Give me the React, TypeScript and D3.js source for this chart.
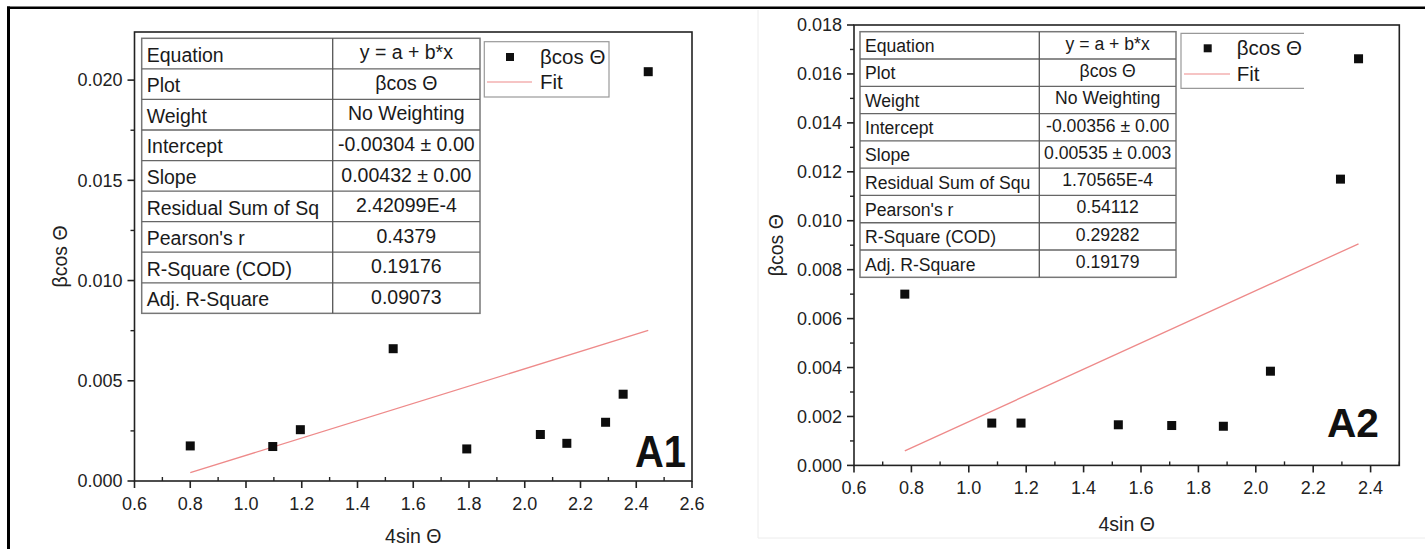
import React from "react";
import * as d3 from "d3";

// ---------- data ----------
const a1X = [0.8, 1.096, 1.195, 1.528, 1.792, 2.056, 2.151, 2.29, 2.353, 2.443];
const a1Y = [0.00175, 0.00172, 0.00256, 0.0066, 0.0016, 0.00232, 0.00188, 0.00293, 0.00433, 0.02042];
const a2X = [0.777, 1.08, 1.182, 1.521, 1.707, 1.887, 2.051, 2.295, 2.358];
const a2Y = [0.007, 0.00173, 0.00173, 0.00166, 0.00163, 0.0016, 0.00385, 0.0117, 0.01662];

const a1Intercept = -0.00304;
const a1Slope = 0.00432;
const a2Intercept = -0.00356;
const a2Slope = 0.00535;

const a1XTicks = [0.6, 0.8, 1.0, 1.2, 1.4, 1.6, 1.8, 2.0, 2.2, 2.4, 2.6];
const a1YTicks = [0, 0.005, 0.01, 0.015, 0.02];
const a2XTicks = [0.6, 0.8, 1.0, 1.2, 1.4, 1.6, 1.8, 2.0, 2.2, 2.4];
const a2YTicks = [0, 0.002, 0.004, 0.006, 0.008, 0.01, 0.012, 0.014, 0.016, 0.018];

const a1TableLabels = ["Equation", "Plot", "Weight", "Intercept", "Slope", "Residual Sum of Sq", "Pearson's r", "R-Square (COD)", "Adj. R-Square"];
const a1TableValues = ["y = a + b*x", "βcos Θ", "No Weighting", "-0.00304 ± 0.00", "0.00432 ± 0.00", "2.42099E-4", "0.4379", "0.19176", "0.09073"];
const a2TableLabels = ["Equation", "Plot", "Weight", "Intercept", "Slope", "Residual Sum of Squ", "Pearson's r", "R-Square (COD)", "Adj. R-Square"];
const a2TableValues = ["y = a + b*x", "βcos Θ", "No Weighting", "-0.00356 ± 0.00", "0.00535 ± 0.003", "1.70565E-4", "0.54112", "0.29282", "0.19179"];

const xTitle = "4sin Θ";
const yTitle = "βcos Θ";
const legendPoints = "βcos Θ";
const legendFit = "Fit";

const FONT = "'Liberation Sans', Arial, Helvetica, sans-serif";

type PanelCfg = {
  xs: number[]; ys: number[];
  intercept: number; slope: number;
  xDomain: [number, number]; yDomain: [number, number];
  xTicks: number[]; yTicks: number[];
  frame: { l: number; r: number; t: number; b: number };
  table: { x0: number; x1: number; x2: number; y0: number; rowH: number; font: number; labels: string[]; values: string[]; lOff: number; vOff: number };
  legend: { l: number; t: number; r: number; b: number; rightBorder: boolean; sq: [number, number]; tx: number; fitY: number; lineX: [number, number]; font: number };
  tag: string; tagX: number; tagY: number; tagFont: number; tagW: number;
  yTitleX: number; xTitleY: number;
  tickFont: number;
};

function Panel({ c }: { c: PanelCfg }) {
  const { frame } = c;
  const x = d3.scaleLinear().domain(c.xDomain).range([frame.l, frame.r]);
  const y = d3.scaleLinear().domain(c.yDomain).range([frame.b, frame.t]);
  const xStep = c.xTicks[1] - c.xTicks[0];
  const yStep = c.yTicks[1] - c.yTicks[0];
  const xMinor = c.xTicks.slice(0, -1).map((t) => t + xStep / 2).filter((t) => t <= c.xDomain[1]);
  if (c.xTicks[c.xTicks.length - 1] + xStep / 2 <= c.xDomain[1] + 1e-9) xMinor.push(c.xTicks[c.xTicks.length - 1] + xStep / 2);
  const yMinor = c.yTicks.slice(0, -1).map((t) => t + yStep / 2);
  const xMin = d3.min(c.xs) as number;
  const xMax = d3.max(c.xs) as number;
  const fitLine = d3.line<number>().x((v) => x(v)).y((v) => y(c.intercept + c.slope * v));
  const t = c.table;
  const lg = c.legend;
  const axisColor = "#222";
  return (
    <g fontFamily={FONT}>
      {/* table */}
      <g>
        <rect x={t.x0} y={t.y0} width={t.x2 - t.x0} height={t.rowH * t.labels.length} fill="white" stroke="#777" strokeWidth={1.5} />
        {t.labels.map((_, i) => i > 0 ? (
          <line key={"r" + i} x1={t.x0} x2={t.x2} y1={t.y0 + i * t.rowH} y2={t.y0 + i * t.rowH} stroke="#666" strokeWidth={1.3} />
        ) : null)}
        <line x1={t.x1} x2={t.x1} y1={t.y0} y2={t.y0 + t.rowH * t.labels.length} stroke="#555" strokeWidth={1.3} />
        {t.labels.map((s, i) => (
          <text key={"l" + i} x={t.x0 + 5} y={t.y0 + i * t.rowH + t.lOff} fontSize={t.font} fill="#1a1a1a">{s}</text>
        ))}
        {t.values.map((s, i) => (
          <text key={"v" + i} x={(t.x1 + t.x2) / 2} y={t.y0 + i * t.rowH + t.vOff} fontSize={t.font} fill="#1a1a1a" textAnchor="middle">{s}</text>
        ))}
      </g>
      {/* legend */}
      <g>
        {lg.rightBorder ? (
          <rect x={lg.l} y={lg.t} width={lg.r - lg.l} height={lg.b - lg.t} fill="white" stroke="#999" strokeWidth={1.2} />
        ) : (
          <path d={`M${lg.r},${lg.t}H${lg.l}V${lg.b}H${lg.r}`} fill="white" stroke="#999" strokeWidth={1.2} />
        )}
        <rect x={lg.sq[0] - 4} y={lg.sq[1] - 4} width={8} height={8} fill="#111" />
        <text x={lg.tx} y={lg.sq[1] + 7} fontSize={lg.font} fill="#1a1a1a">{legendPoints}</text>
        <line x1={lg.lineX[0]} x2={lg.lineX[1]} y1={lg.fitY} y2={lg.fitY} stroke="#ee8a8a" strokeWidth={1.2} />
        <text x={lg.tx} y={lg.fitY + 7} fontSize={lg.font} fill="#1a1a1a">{legendFit}</text>
      </g>
      {/* fit line */}
      <path d={fitLine([xMin, xMax]) || ""} stroke="#ee8a8a" strokeWidth={1.3} fill="none" />
      {/* points */}
      {c.xs.map((v, i) => (
        <rect key={"p" + i} x={x(v) - 4.5} y={y(c.ys[i]) - 4.5} width={9} height={9} fill="#0d0d0d" />
      ))}
      {/* frame */}
      <rect x={frame.l} y={frame.t} width={frame.r - frame.l} height={frame.b - frame.t} fill="none" stroke={axisColor} strokeWidth={1.6} />
      {/* x ticks */}
      {c.xTicks.map((v) => (
        <g key={"xt" + v}>
          <line x1={x(v)} x2={x(v)} y1={frame.b} y2={frame.b + 7} stroke={axisColor} strokeWidth={1.6} />
          <text x={x(v)} y={frame.b + 29} fontSize={c.tickFont} textAnchor="middle" fill="#222">{d3.format(".1f")(v)}</text>
        </g>
      ))}
      {xMinor.map((v) => (
        <line key={"xm" + v} x1={x(v)} x2={x(v)} y1={frame.b} y2={frame.b - 4} stroke={axisColor} strokeWidth={1.4} />
      ))}
      {/* y ticks */}
      {c.yTicks.map((v) => (
        <g key={"yt" + v}>
          <line x1={frame.l - 7} x2={frame.l} y1={y(v)} y2={y(v)} stroke={axisColor} strokeWidth={1.6} />
          <text x={frame.l - 12} y={y(v)} dy="0.35em" fontSize={c.tickFont} textAnchor="end" fill="#222">{d3.format(".3f")(v)}</text>
        </g>
      ))}
      {yMinor.map((v) => (
        <line key={"ym" + v} x1={frame.l - 4} x2={frame.l} y1={y(v)} y2={y(v)} stroke={axisColor} strokeWidth={1.4} />
      ))}
      {/* titles */}
      <text x={(frame.l + frame.r) / 2} y={c.xTitleY} fontSize={19.5} textAnchor="middle" fill="#222">{xTitle}</text>
      <text transform={`translate(${c.yTitleX},${(frame.t + frame.b) / 2}) rotate(-90)`} dy="0.35em" fontSize={19.5} textAnchor="middle" fill="#222">{yTitle}</text>
      <text x={c.tagX} y={c.tagY} fontSize={c.tagFont} fontWeight="bold" fill="#111" textLength={c.tagW} lengthAdjust="spacingAndGlyphs">{c.tag}</text>
    </g>
  );
}

const panel1: PanelCfg = {
  xs: a1X, ys: a1Y, intercept: a1Intercept, slope: a1Slope,
  xDomain: [0.6, 2.6], yDomain: [0, 0.0224],
  xTicks: a1XTicks, yTicks: a1YTicks,
  frame: { l: 134.5, r: 692, t: 32, b: 481 },
  table: { x0: 141.7, x1: 332.7, x2: 480, y0: 38.3, rowH: 30.56, font: 19.5, labels: a1TableLabels, values: a1TableValues, lOff: 23.5, vOff: 21 },
  legend: { l: 484.3, t: 41.7, r: 609, b: 97, rightBorder: true, sq: [510, 57], tx: 540, fitY: 82, lineX: [487, 532], font: 20.5 },
  tag: "A1", tagX: 635, tagY: 467, tagFont: 45, tagW: 51,
  yTitleX: 60, xTitleY: 543, tickFont: 18,
};

const panel2: PanelCfg = {
  xs: a2X, ys: a2Y, intercept: a2Intercept, slope: a2Slope,
  xDomain: [0.6, 2.5], yDomain: [0, 0.018],
  xTicks: a2XTicks, yTicks: a2YTicks,
  frame: { l: 854, r: 1399.3, t: 25, b: 465.4 },
  table: { x0: 860, x1: 1039.3, x2: 1176, y0: 31.7, rowH: 27.29, font: 17.6, labels: a2TableLabels, values: a2TableValues, lOff: 20.5, vOff: 18 },
  legend: { l: 1181, t: 33.3, r: 1304, b: 88.3, rightBorder: false, sq: [1207.7, 48.3], tx: 1236.7, fitY: 74, lineX: [1184, 1230], font: 20.5 },
  tag: "A2", tagX: 1327, tagY: 437, tagFont: 41, tagW: 52,
  yTitleX: 776, xTitleY: 531, tickFont: 18,
};

export default function App() {
  return (
    <svg width={1425} height={549} style={{ position: "absolute", left: 0, top: 0, background: "white" }}>
      <rect x={0} y={0} width={1425} height={549} fill="white" />
      {/* outer image borders */}
      <line x1={758} x2={758} y1={10} y2={538} stroke="#ececec" strokeWidth={1} />
      <line x1={758} x2={1425} y1={538} y2={538} stroke="#ececec" strokeWidth={1} />
      <line x1={7} x2={1425} y1={7.8} y2={7.8} stroke="#000" strokeWidth={2.6} />
      <line x1={8.5} x2={8.5} y1={6.5} y2={549} stroke="#000" strokeWidth={3} />
      <Panel c={panel1} />
      <Panel c={panel2} />
    </svg>
  );
}
